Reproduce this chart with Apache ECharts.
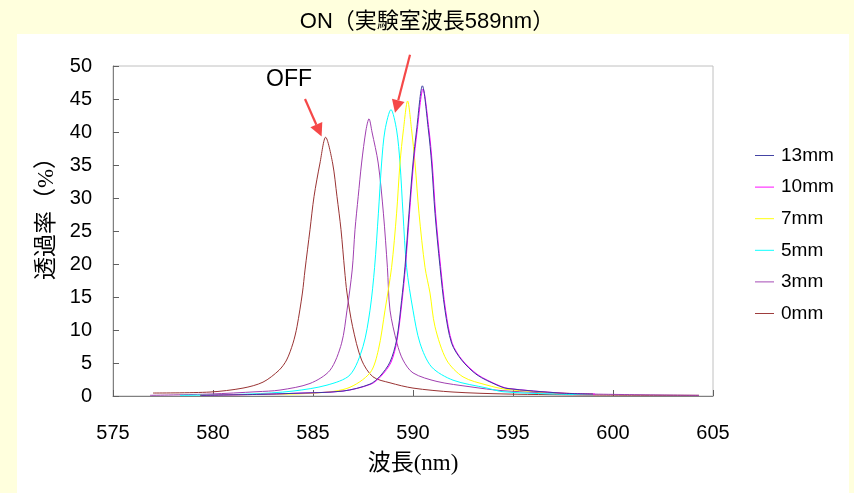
<!DOCTYPE html>
<html>
<head>
<meta charset="utf-8">
<script src="https://cdn.jsdelivr.net/npm/echarts@6/dist/echarts.min.js"></script>
<style>
html,body{margin:0;padding:0;background:#ffffdd;}
#c{width:854px;height:493px;}
</style>
</head>
<body>
<div id="c"></div>
<script>
// ---- data ----
const titleText = 'ON（実験室波長589nm）';
const seriesNames = ['13mm', '10mm', '7mm', '5mm', '3mm', '0mm'];
const seriesColors = ['#3a3aa0', '#ff00ff', '#ffff00', '#00ffff', '#a040b0', '#993333'];

const wl13 = [579.35, 582.35, 584.0, 586.5, 587.85, 588.35, 588.85, 589.18, 589.43, 589.6, 589.8, 590.0, 590.18, 590.47, 590.77, 590.93, 591.1, 591.35, 591.6, 591.93, 592.43, 593.2, 594.2, 594.7, 597.35, 599.0];
const t13  = [0.1, 0.25, 0.4, 0.75, 1.8, 3.0, 5.15, 8.5, 14.5, 19.6, 27.7, 35.3, 40.3, 47.0, 40.3, 35.3, 27.7, 19.6, 13.0, 8.0, 5.45, 3.2, 1.65, 1.15, 0.45, 0.3];

const wl10 = [579.4, 582.4, 584.0, 586.5, 587.9, 588.4, 588.9, 589.2, 589.45, 589.62, 589.82, 590.02, 590.2, 590.5, 590.8, 590.96, 591.13, 591.38, 591.63, 591.96, 592.46, 593.25, 594.25, 594.75, 597.4, 599.1];
const t10  = [0.1, 0.25, 0.4, 0.75, 1.8, 3.0, 5.1, 8.4, 14.3, 19.5, 27.5, 35.0, 40.0, 46.5, 40.3, 35.3, 27.7, 19.6, 13.0, 8.0, 5.45, 3.2, 1.65, 1.15, 0.45, 0.3];

const wl7 = [579.35, 582.35, 584.85, 586.7, 587.85, 588.27, 588.6, 588.93, 589.18, 589.35, 589.52, 589.73, 589.93, 590.1, 590.3, 590.6, 590.85, 591.1, 591.68, 592.5, 593.7, 594.7, 597.35, 599.0];
const t7  = [0.1, 0.25, 0.4, 1.15, 3.5, 7.0, 13.0, 19.5, 27.7, 35.3, 40.3, 44.7, 40.3, 35.3, 27.7, 19.5, 15.6, 10.5, 5.45, 2.9, 1.65, 1.0, 0.45, 0.3];

const wl5 = [578.35, 581.85, 584.0, 585.7, 586.85, 587.5, 587.85, 588.08, 588.27, 588.43, 588.6, 588.9, 589.18, 589.35, 589.5, 589.68, 590.0, 590.35, 590.93, 592.0, 593.7, 594.5, 597.0, 599.0];
const t5  = [0.1, 0.3, 0.75, 1.65, 3.2, 7.5, 13.0, 19.5, 27.7, 35.3, 40.3, 43.4, 40.3, 35.3, 27.7, 19.5, 13.0, 8.0, 4.4, 2.4, 1.2, 0.65, 0.3, 0.2];

const wl3 = [576.85, 579.85, 582.2, 583.35, 584.85, 585.85, 586.43, 586.7, 586.96, 587.1, 587.26, 587.43, 587.65, 587.8, 587.95, 588.26, 588.52, 588.72, 588.85, 589.2, 589.5, 590.0, 591.2, 592.85, 594.5, 598.0, 604.3];
const t3  = [0.1, 0.3, 0.65, 0.9, 1.9, 3.9, 8.0, 13.0, 19.1, 25.2, 30.2, 35.3, 40.3, 42.0, 40.0, 35.3, 27.7, 19.5, 13.0, 8.0, 5.45, 3.5, 2.2, 1.4, 0.8, 0.35, 0.1];

const wl0 = [577.0, 579.85, 581.5, 582.5, 583.3, 583.68, 584.0, 584.2, 584.47, 584.6, 584.85, 585.05, 585.35, 585.63, 585.98, 586.2, 586.4, 586.58, 586.7, 586.98, 587.43, 588.0, 588.85, 590.0, 592.0, 594.7, 599.0, 604.3];
const t0  = [0.45, 0.6, 1.2, 2.1, 3.9, 5.45, 8.0, 10.5, 15.6, 19.1, 25.2, 30.2, 35.3, 39.2, 35.3, 30.2, 25.2, 19.1, 15.6, 10.5, 5.45, 2.9, 2.0, 1.2, 0.6, 0.3, 0.15, 0.1];

const xTicks = [575, 580, 585, 590, 595, 600, 605];
const yTicks = [0, 5, 10, 15, 20, 25, 30, 35, 40, 45, 50];

// annotation anchors in data space: [tail, tip]
const arrowOff = [[584.6, 45.0], [585.43, 39.3]];
const arrowOn  = [[589.85, 51.7], [589.1, 42.9]];
const offLabel = {text: 'OFF', at: [583.8, 48.0]};

// ---- chart ----
const wlSets = [wl13, wl10, wl7, wl5, wl3, wl0];
const tSets = [t13, t10, t7, t5, t3, t0];
const chart = echarts.init(document.getElementById('c'), null, {renderer: 'canvas'});

const series = seriesNames.map((name, i) => ({
  name: name,
  type: 'line',
  data: wlSets[i].map((w, k) => [w, tSets[i][k]]),
  symbol: 'none',
  showSymbol: false,
  smooth: 0.3,
  lineStyle: {color: seriesColors[i], width: 1},
  itemStyle: {color: seriesColors[i]},
  z: 3 + (5 - i),
  animation: false
}));

const sansFont = '"Liberation Sans", Arial, sans-serif';
const serifFont = '"Liberation Serif", "Noto Sans CJK JP", serif';

chart.setOption({
  animation: false,
  backgroundColor: 'transparent',
  title: {
    text: titleText,
    left: 'center',
    top: 6,
    textStyle: {fontFamily: '"Liberation Sans", "Noto Sans CJK JP", sans-serif', fontSize: 22, fontWeight: 'normal', color: '#000'}
  },
  legend: {
    data: seriesNames,
    orient: 'vertical',
    left: 750,
    top: 141,
    itemWidth: 19,
    itemHeight: 14,
    itemGap: 12.6,
    icon: 'path://M0,7 L20,7 L20,8 L0,8 Z',
    textStyle: {fontFamily: sansFont, fontSize: 19, color: '#000', padding: [0, 0, 0, 2]}
  },
  grid: {
    left: 113, right: 141, top: 66, bottom: 97,
    show: true, borderColor: '#c0c0c0', borderWidth: 1, backgroundColor: 'transparent'
  },
  xAxis: {
    type: 'value',
    min: 575, max: 605, interval: 5,
    name: '波長(nm)',
    nameLocation: 'middle',
    nameGap: 56,
    nameTextStyle: {fontFamily: serifFont, fontSize: 23, color: '#000'},
    axisLine: {show: true, lineStyle: {color: '#808080', width: 1}},
    axisTick: {show: true, inside: true, length: 6, lineStyle: {color: '#606060'}},
    axisLabel: {fontFamily: sansFont, fontSize: 20, color: '#000', margin: 27},
    splitLine: {show: false}
  },
  yAxis: {
    type: 'value',
    min: 0, max: 50, interval: 5,
    name: '透過率（%）',
    nameLocation: 'middle',
    nameGap: 52,
    nameRotate: 90,
    nameTextStyle: {fontFamily: serifFont, fontSize: 23, color: '#000', padding: [0, 0, 0, 36]},
    axisLine: {show: true, lineStyle: {color: '#808080', width: 1}},
    axisTick: {show: true, inside: true, length: 6, lineStyle: {color: '#606060'}},
    axisLabel: {fontFamily: sansFont, fontSize: 20, color: '#000', margin: 21},
    splitLine: {show: false}
  },
  series: series
});

function px(p) { return chart.convertToPixel({gridIndex: 0}, p); }
function arrowGraphics(pair) {
  const a = px(pair[0]), b = px(pair[1]);
  const dx = b[0] - a[0], dy = b[1] - a[1];
  const len = Math.hypot(dx, dy);
  const ux = dx / len, uy = dy / len;
  const hl = 13, hw = 6.5;
  const bx = b[0] - ux * hl, by = b[1] - uy * hl;
  return [
    {type: 'line', shape: {x1: a[0], y1: a[1], x2: bx, y2: by}, style: {stroke: '#f54848', lineWidth: 2.2}, z: 20},
    {type: 'polygon', shape: {points: [[b[0], b[1]], [bx - uy * hw, by + ux * hw], [bx + uy * hw, by - ux * hw]]}, style: {fill: '#f54848'}, z: 20}
  ];
}
const offPos = px(offLabel.at);
chart.setOption({
  graphic: [
    {type: 'rect', shape: {x: 17, y: 34, width: 832, height: 470}, style: {fill: '#ffffff'}, z: -10, silent: true}
  ].concat(arrowGraphics(arrowOff), arrowGraphics(arrowOn), [
    {type: 'text', x: offPos[0], y: offPos[1], style: {text: offLabel.text, fontFamily: sansFont, fontSize: 23, fill: '#000', align: 'center', verticalAlign: 'middle'}, z: 20}
  ])
});
</script>
</body>
</html>
